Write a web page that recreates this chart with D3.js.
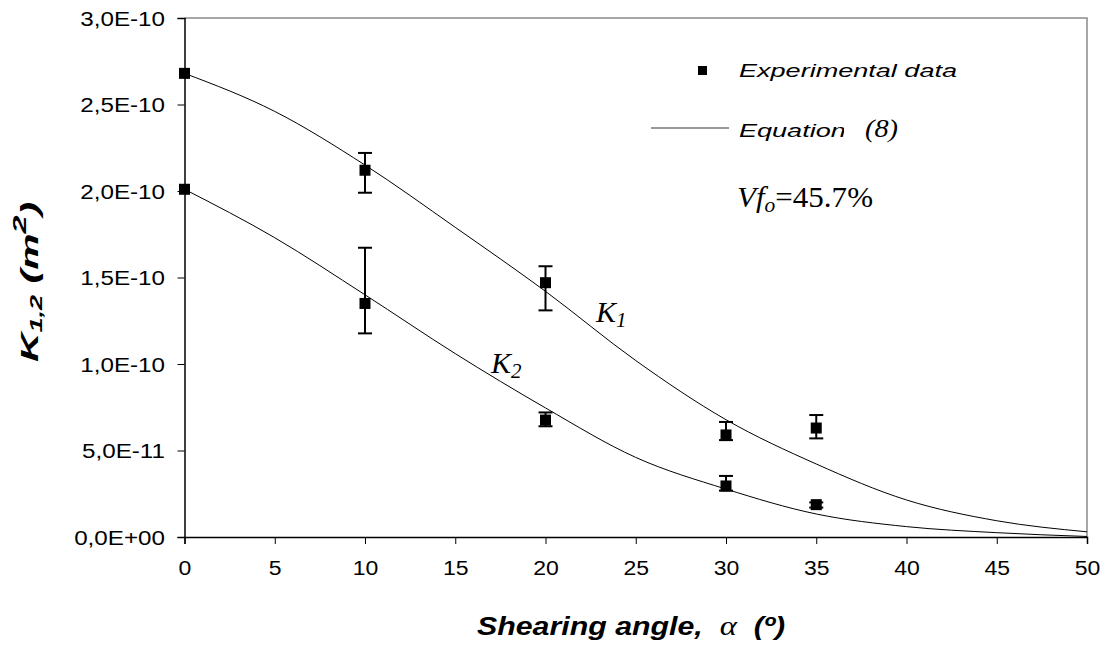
<!DOCTYPE html>
<html><head><meta charset="utf-8">
<script src="https://cdn.jsdelivr.net/npm/d3@7"></script>
<style>body{margin:0;background:#fff}svg{display:block}</style>
</head><body><svg id="c" width="1104" height="648"></svg>
<script>
// ---- data ----
const xTickValues = [0, 5, 10, 15, 20, 25, 30, 35, 40, 45, 50];
const yTickValues = [0, 0.5e-10, 1.0e-10, 1.5e-10, 2.0e-10, 2.5e-10, 3.0e-10];
const yTickLabels = ["0,0E+00", "5,0E-11", "1,0E-10", "1,5E-10", "2,0E-10", "2,5E-10", "3,0E-10"];

const expAngles = [0, 10, 20, 30, 35];
const k1Exp   = [2.68e-10, 2.12e-10, 1.47e-10, 5.9e-11, 6.3e-11];
const k1ErrHi = [null, 2.22e-10, 1.565e-10, 6.65e-11, 7.05e-11];
const k1ErrLo = [null, 1.99e-10, 1.31e-10, 5.6e-11, 5.7e-11];
const k2Exp   = [2.01e-10, 1.35e-10, 6.76e-11, 2.95e-11, 1.87e-11];
const k2ErrHi = [null, 1.672e-10, 7.2e-11, 3.53e-11, 2.0e-11];
const k2ErrLo = [null, 1.177e-10, 6.4e-11, 2.68e-11, 1.7e-11];

const eqAngles = [0, 5, 10, 15, 20, 25, 30, 35, 40, 45, 50];
const k1Eq = [2.68e-10, 2.46e-10, 2.15e-10, 1.79e-10, 1.42e-10, 1.02e-10, 6.78e-11, 4.22e-11, 2.14e-11, 9.4e-12, 3.0e-12];
const k2Eq = [2.01e-10, 1.73e-10, 1.40e-10, 1.06e-10, 7.46e-11, 4.6e-11, 2.77e-11, 1.33e-11, 6.0e-12, 2.5e-12, 3e-13];

// ---- drawing ----
const svg = d3.select("#c");
const x = d3.scaleLinear().domain([0, 50]).range([184.5, 1087]);
const y = d3.scaleLinear().domain([0, 3e-10]).range([537, 18]);
const SANS = "'Liberation Sans', Arial, sans-serif";
const SERIF = "'Liberation Serif', 'Times New Roman', serif";

function stretchTo(sel, target) {
  sel.attr("textLength", target).attr("lengthAdjust", "spacingAndGlyphs");
}
function stretchBy(sel, f) {
  const w = sel.node().getComputedTextLength();
  stretchTo(sel, w * f);
  return w * f;
}

// frame (top/right gray)
svg.append("path")
  .attr("d", `M${x(0)},${y(3e-10)}H${x(50)}V${y(0)}`)
  .attr("fill", "none").attr("stroke", "#8a8a8a").attr("stroke-width", 1.5);

// axes
const yAxis = d3.axisLeft(y).tickValues(yTickValues)
  .tickFormat((d, i) => yTickLabels[i]).tickSize(7);
const gy = svg.append("g").attr("transform", `translate(${x(0)},0)`).call(yAxis);
const xAxis = d3.axisBottom(x).tickValues(xTickValues).tickSize(7);
const gx = svg.append("g").attr("transform", `translate(0,${y(0)})`).call(xAxis);
[gx, gy].forEach(g => {
  g.select(".domain").attr("stroke", "#000").attr("stroke-width", 1.5);
  g.selectAll(".tick line").attr("stroke", "#000").attr("stroke-width", 1);
  g.selectAll(".tick text").attr("font-family", SANS).attr("font-size", 20)
    .attr("fill", "#000").attr("text-anchor", "start");
});
gy.selectAll(".tick text").each(function () {
  const t = d3.select(this);
  const w = stretchBy(t, 1.21);
  t.attr("x", -19.5 - w).attr("dy", "0.36em");
});
gx.selectAll(".tick text").each(function () {
  const t = d3.select(this);
  const w = stretchBy(t, 1.15);
  t.attr("x", -w / 2).attr("y", 38).attr("dy", 0);
});

// curves
const line = d3.line().x((d, i) => x(eqAngles[i])).y(d => y(d)).curve(d3.curveMonotoneX);
[k1Eq, k2Eq].forEach(s => {
  svg.append("path").attr("d", line(s)).attr("fill", "none")
    .attr("stroke", "#000").attr("stroke-width", 1);
});

// error bars + squares
function drawExp(vals, hi, lo) {
  const g = svg.append("g");
  expAngles.forEach((a, i) => {
    if (hi[i] != null) {
      const cx = x(a);
      g.append("line").attr("x1", cx).attr("x2", cx).attr("y1", y(hi[i])).attr("y2", y(lo[i]))
        .attr("stroke", "#000").attr("stroke-width", 2);
      [hi[i], lo[i]].forEach(v => g.append("line")
        .attr("x1", cx - 7).attr("x2", cx + 7).attr("y1", y(v)).attr("y2", y(v))
        .attr("stroke", "#000").attr("stroke-width", 2));
    }
  });
  g.selectAll("rect").data(vals).enter().append("rect")
    .attr("x", (d, i) => x(expAngles[i]) - 5.5).attr("y", d => y(d) - 5.5)
    .attr("width", 11).attr("height", 11).attr("fill", "#000");
}
drawExp(k1Exp, k1ErrHi, k1ErrLo);
drawExp(k2Exp, k2ErrHi, k2ErrLo);

// legend
svg.append("rect").attr("x", 698).attr("y", 66).attr("width", 9).attr("height", 9).attr("fill", "#000");
const leg1 = svg.append("text").attr("x", 739).attr("y", 77).attr("font-family", SANS).attr("font-style", "italic")
  .attr("font-size", 19).text("Experimental data");
const legF = 218 / leg1.node().getComputedTextLength();
stretchTo(leg1, 218);
svg.append("line").attr("x1", 651).attr("x2", 729).attr("y1", 128).attr("y2", 128)
  .attr("stroke", "#333").attr("stroke-width", 1);
const leg2 = svg.append("text").attr("x", 739).attr("y", 137).attr("font-family", SANS).attr("font-style", "italic")
  .attr("font-size", 19).text("Equation");
stretchBy(leg2, legF);
svg.append("rect").attr("x", 844).attr("y", 110).attr("width", 60).attr("height", 35).attr("fill", "#fff");
const eq8 = svg.append("text").attr("x", 865).attr("y", 137).attr("font-family", SERIF).attr("font-style", "italic")
  .attr("font-size", 25).text("(8)");
stretchTo(eq8, 33);

// Vfo
const vt = svg.append("text").attr("x", 737).attr("y", 207).attr("font-family", SERIF).attr("font-size", 29);
vt.append("tspan").attr("font-style", "italic").text("Vf");
vt.append("tspan").attr("font-style", "italic").attr("font-size", 20).attr("dy", 5).text("o");
vt.append("tspan").attr("dy", -5).text("=45.7%");
stretchTo(vt, 136);

// K1, K2 labels
function kLabel(px, py, sub) {
  const t = svg.append("text").attr("x", px).attr("y", py).attr("font-family", SERIF)
    .attr("font-style", "italic").attr("font-size", 30);
  t.append("tspan").text("K");
  t.append("tspan").attr("font-size", 21).attr("dy", 5).text(sub);
}
kLabel(596, 322, "1");
kLabel(491, 373, "2");

// axis titles
const xt = svg.append("text").attr("x", 477).attr("y", 635).attr("font-family", SANS)
  .style("white-space", "pre").attr("xml:space", "preserve")
  .attr("font-weight", "bold").attr("font-style", "italic").attr("font-size", 25);
xt.append("tspan").text("Shearing angle,  ");
xt.append("tspan").attr("font-family", SERIF).attr("font-weight", "normal").attr("font-size", 27).text("α");
xt.append("tspan").text("  (º)");
stretchTo(xt, 308);

const yt = svg.append("text").attr("transform", "translate(38,362) rotate(-90)")
  .attr("font-family", SANS).attr("font-weight", "bold").attr("font-style", "italic").attr("font-size", 24);
yt.append("tspan").text("K");
yt.append("tspan").attr("font-size", 16).attr("dy", 4).text("1,2");
yt.append("tspan").attr("dy", -4).text(" (m");
yt.append("tspan").attr("font-size", 19).attr("dy", -12).text("2");
yt.append("tspan").attr("dy", 12).text(")");
stretchTo(yt, 160);
</script></body></html>
